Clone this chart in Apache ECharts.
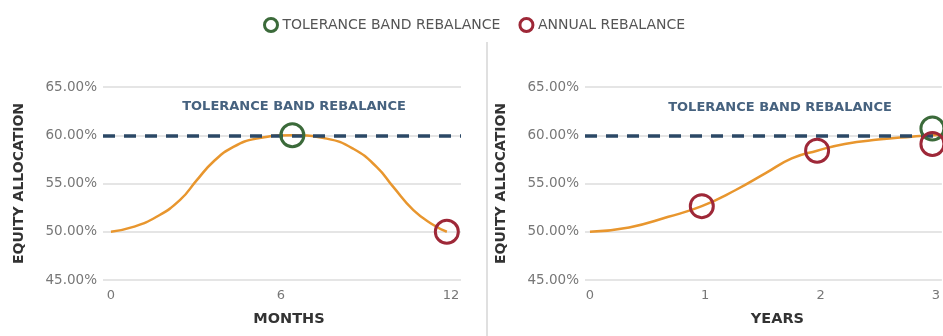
<!DOCTYPE html>
<html>
<head>
<meta charset="utf-8">
<title>Rebalance comparison</title>
<script src="https://cdn.jsdelivr.net/npm/echarts@6/dist/echarts.min.js"></script>
<style>
  html, body { margin: 0; padding: 0; background: #fff; }
  #chart { width: 943px; height: 336px; }
</style>
</head>
<body>
<div id="chart"></div>
<script>
// left panel: one year, months
const monthX = [0, 0.79, 1.61, 2.44, 3.03, 3.61, 4.32, 5.14, 6.4, 7.61, 8.55, 9.38, 9.96, 10.67, 11.38, 11.85];
const monthY = [50, 50.5, 51.55, 53.3, 55.35, 57.25, 58.8, 59.65, 60, 59.65, 58.6, 56.7, 54.65, 52.25, 50.7, 50];
const monthTicks = [0, 6, 12];
const monthBand = [[6.4, 60]];
const monthAnnual = [[11.85, 50]];

// right panel: years
const yearX = [0, 0.34, 0.68, 0.97, 1.26, 1.52, 1.75, 1.97, 2.21, 2.5, 2.79, 2.97, 3.1];
const yearY = [50, 50.45, 51.55, 52.65, 54.3, 56.05, 57.6, 58.4, 59.1, 59.55, 59.85, 60, 60.05];
const yearTicks = [0, 1, 2, 3];
const yearBand = [[2.97, 60.7]];
const yearAnnual = [[0.97, 52.65], [1.97, 58.4], [2.97, 59.1]];

const yTicks = [45, 50, 55, 60, 65];
const bandLevel = 60;

const BAND = 'TOLERANCE BAND REBALANCE';
const ANNUAL = 'ANNUAL REBALANCE';

const font = '"DejaVu Sans", sans-serif';
const orange = '#e8962e';
const green = '#3b6a3a';
const red = '#9e2838';
const navy = '#2b4866';

const chart = echarts.init(document.getElementById('chart'));

function yAxisFor(gridIndex) {
  return {
    type: 'value',
    gridIndex: gridIndex,
    min: yTicks[0],
    max: yTicks[yTicks.length - 1],
    interval: 5,
    name: 'EQUITY ALLOCATION',
    nameLocation: 'middle',
    nameGap: 77,
    nameTextStyle: { color: '#333', fontWeight: 'bold', fontSize: 14, fontFamily: font },
    axisLabel: {
      color: '#777',
      fontSize: 13.5,
      fontFamily: font,
      margin: 6,
      formatter: v => v.toFixed(2) + '%'
    },
    axisLine: { show: false },
    axisTick: { show: false },
    splitLine: { lineStyle: { color: '#dcdcdc', width: 1.5 } }
  };
}

function xAxisFor(gridIndex, min, max, ticks, name, shift) {
  return {
    type: 'value',
    gridIndex: gridIndex,
    min: min,
    max: max,
    name: name,
    nameLocation: 'middle',
    nameGap: 32,
    nameTextStyle: {
      color: '#333', fontWeight: 'bold', fontSize: 14.5, fontFamily: font,
      padding: [0, 0, 0, shift]
    },
    axisLabel: {
      customValues: ticks,
      color: '#777',
      fontSize: 13,
      fontFamily: font,
      margin: 9
    },
    axisTick: { show: false },
    axisLine: { show: false },
    splitLine: { show: false }
  };
}

function curve(idx, xs, ys) {
  return {
    type: 'line',
    xAxisIndex: idx,
    yAxisIndex: idx,
    data: xs.map((x, i) => [x, ys[i]]),
    smooth: 0.5,
    showSymbol: false,
    silent: true,
    lineStyle: { color: orange, width: 2.5 },
    markLine: {
      silent: true,
      symbol: 'none',
      label: { show: false },
      lineStyle: { color: navy, width: 3.5, type: [12, 9] },
      data: [{ yAxis: bandLevel }]
    },
    z: 2
  };
}

function marks(idx, name, data, color) {
  return {
    type: 'scatter',
    name: name,
    xAxisIndex: idx,
    yAxisIndex: idx,
    data: data,
    symbol: 'circle',
    symbolSize: 23,
    itemStyle: { color: 'rgba(0,0,0,0)', borderColor: color, borderWidth: 3, opacity: 1 },
    z: 5
  };
}

const option = {
  animation: false,
  textStyle: { fontFamily: font },
  legend: {
    left: 258,
    top: 12,
    itemWidth: 13,
    itemHeight: 13,
    itemGap: 18,
    icon: 'circle',
    textStyle: { color: '#555', fontSize: 14, fontFamily: font },
    data: [
      { name: BAND, itemStyle: { color: '#fff', borderColor: green, borderWidth: 3, opacity: 1 } },
      { name: ANNUAL, itemStyle: { color: '#fff', borderColor: red, borderWidth: 3, opacity: 1 } }
    ]
  },
  grid: [
    { left: 103, right: 482, top: 87, bottom: 56 },
    { left: 585, right: 0, top: 87, bottom: 56 }
  ],
  xAxis: [
    xAxisFor(0, -0.28, 12.35, monthTicks, 'MONTHS', 14),
    xAxisFor(1, -0.043, 3.052, yearTicks, 'YEARS', 28)
  ],
  yAxis: [yAxisFor(0), yAxisFor(1)],
  graphic: [
    {
      type: 'line',
      shape: { x1: 487, y1: 42, x2: 487, y2: 336 },
      style: { stroke: '#d6d6d6', lineWidth: 1.5 },
      silent: true
    },
    {
      type: 'text',
      x: 294, y: 107,
      style: {
        text: 'TOLERANCE BAND REBALANCE',
        fill: '#46627f',
        font: 'bold 13px ' + font,
        align: 'center',
        verticalAlign: 'middle'
      }
    },
    {
      type: 'text',
      x: 780, y: 108,
      style: {
        text: 'TOLERANCE BAND REBALANCE',
        fill: '#46627f',
        font: 'bold 13px ' + font,
        align: 'center',
        verticalAlign: 'middle'
      }
    }
  ],
  series: [
    curve(0, monthX, monthY),
    curve(1, yearX, yearY),
    marks(0, BAND, monthBand, green),
    marks(0, ANNUAL, monthAnnual, red),
    marks(1, BAND, yearBand, green),
    marks(1, ANNUAL, yearAnnual, red)
  ]
};

chart.setOption(option);
</script>
</body>
</html>
